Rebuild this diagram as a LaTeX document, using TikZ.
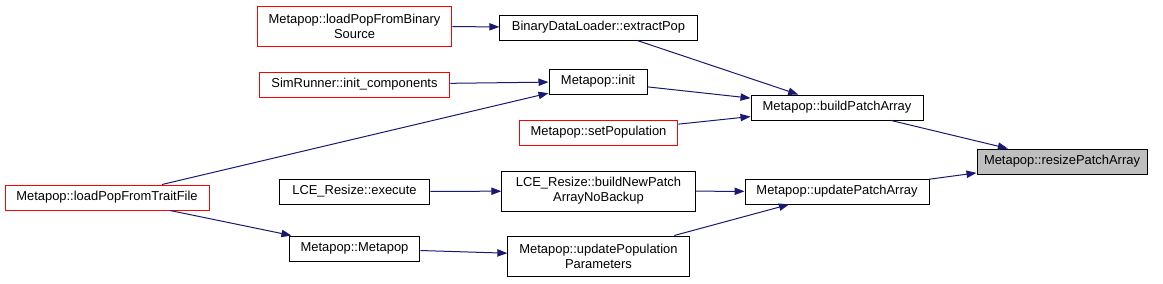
\documentclass[tikz,border=0pt]{standalone}
\usepackage{fontspec}
\setmainfont{Liberation Sans}
\usepackage{tikz}
\usetikzlibrary{arrows.meta,positioning}
\definecolor{DoxBlue}{HTML}{191970}
\definecolor{DoxRed}{HTML}{FF0000}
\definecolor{DoxGray}{HTML}{BFBFBF}
\tikzset{
  fn/.style={draw=black, line width=0.75pt, align=center, inner xsep=2pt, inner ysep=1pt,
    minimum height=18.75pt, font=\fontsize{9.7}{11.25}\selectfont},
  fntwo/.style={fn, minimum height=30pt},
  fncut/.style={fn, draw=DoxRed},
  fncuttwo/.style={fntwo, draw=DoxRed},
  fnroot/.style={fn, fill=DoxGray},
  call/.style={draw=DoxBlue, line width=0.75pt, -{Triangle[length=7.5pt,width=5.5pt]}}
}
\begin{document}
\begin{tikzpicture}[x=0.75pt, y=-0.75pt]
\useasboundingbox (0,0) rectangle (1163,283);

\node[fncuttwo, minimum width=146pt] (binsrc) at (354.5,26) {Metapop::loadPopFromBinary\\Source};
\node[fncut, minimum width=143pt] (initcomp) at (354.5,84.5) {SimRunner::init\_components};
\node[fncut, minimum width=153pt] (trait) at (107,197.5) {Metapop::loadPopFromTraitFile};
\node[fn, minimum width=113pt] (execute) at (354.5,191.5) {LCE\_Resize::execute};
\node[fn, minimum width=98pt] (ctor) at (354.5,248.5) {Metapop::Metapop};

\node[fn, minimum width=148pt] (extract) at (598.5,27.5) {BinaryDataLoader::extractPop};
\node[fn, minimum width=73.5pt] (init) at (598,81.5) {Metapop::init};
\node[fncut, minimum width=119pt] (setpop) at (598.5,132.5) {Metapop::setPopulation};
\node[fntwo, minimum width=145pt] (newpatch) at (598.5,191) {LCE\_Resize::buildNewPatch\\ArrayNoBackup};
\node[fntwo, minimum width=136pt] (updpop) at (598.5,256) {Metapop::updatePopulation\\Parameters};

\node[fn, minimum width=129pt] (build) at (837,107.5) {Metapop::buildPatchArray};
\node[fn, minimum width=138pt] (updpatch) at (837,191.5) {Metapop::updatePatchArray};

\node[fnroot, minimum width=127.5pt] (resize) at (1062,161.5) {Metapop::resizePatchArray};

\draw[call] (binsrc) -- (extract);
\draw[call] (initcomp) -- (init);
\draw[call] (trait) -- (init);
\draw[call] (trait) -- (ctor);
\draw[call] (execute) -- (newpatch);
\draw[call] (ctor) -- (updpop);
\draw[call] (extract) -- (build);
\draw[call] (init) -- (build);
\draw[call] (setpop) -- (build);
\draw[call] (newpatch) -- (updpatch);
\draw[call] (updpop) -- (updpatch);
\draw[call] (build) -- (resize);
\draw[call] (updpatch) -- (resize);
\end{tikzpicture}
\end{document}
